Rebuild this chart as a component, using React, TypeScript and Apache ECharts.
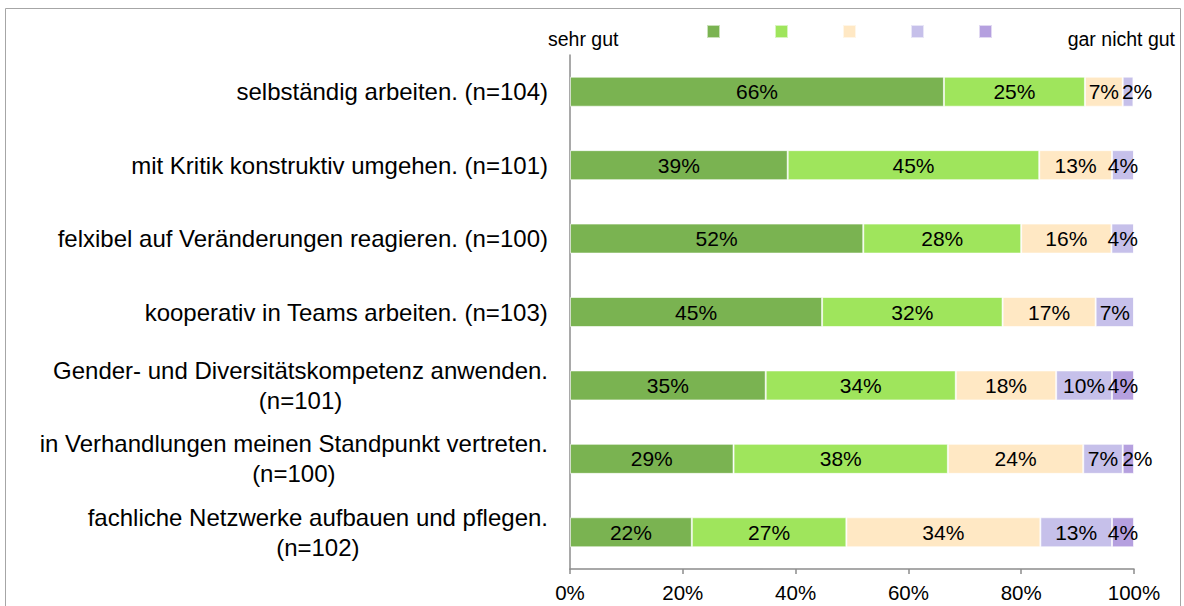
import React, { useEffect, useRef } from "react";
import * as echarts from "echarts";

const categories = [
  "selbständig arbeiten. (n=104)",
  "mit Kritik konstruktiv umgehen. (n=101)",
  "felxibel auf Veränderungen reagieren. (n=100)",
  "kooperativ in Teams arbeiten. (n=103)",
  "Gender- und Diversitätskompetenz anwenden.\n(n=101)",
  "in Verhandlungen meinen Standpunkt vertreten.\n(n=100)",
  "fachliche Netzwerke aufbauen und pflegen.\n(n=102)",
];

const seriesNames = ["1", "2", "3", "4", "5"];
const s1 = [66.3, 38.6, 52, 44.7, 34.7, 29, 21.6];
const s2 = [25.0, 44.6, 28, 32.0, 33.7, 38, 27.4];
const s3 = [6.7, 12.9, 16, 16.5, 17.8, 24, 34.4];
const s4 = [1.9, 3.9, 4, 6.8, 9.9, 7, 12.7];
const s5 = [0, 0, 0, 0, 3.9, 2, 3.9];
const colors = ["#7AB351", "#9FE55C", "#FFE8C4", "#C6C0EA", "#B5A0DF"];
const xTicks = [0, 20, 40, 60, 80, 100];

const FONT = "Liberation Sans, Arial, sans-serif";

export default function App() {
  const ref = useRef<HTMLDivElement>(null);
  useEffect(() => {
    document.body.style.margin = "0";
    const chart = echarts.init(ref.current!, null, { renderer: "svg" });
    const all = [s1, s2, s3, s4, s5];
    chart.setOption({
      animation: false,
      textStyle: { fontFamily: FONT },
      grid: { left: 570, right: 50, top: 55, bottom: 37 },
      legend: {
        data: seriesNames,
        left: 701,
        top: 19,
        itemWidth: 13,
        itemHeight: 13,
        itemGap: 53,
        formatter: () => "",
        selectedMode: false,
        icon: "rect",
      },
      graphic: [
        {
          type: "rect",
          shape: { x: 5.5, y: 8.5, width: 1175, height: 620 },
          style: { fill: "none", stroke: "#A6A6A6", lineWidth: 1 },
          silent: true,
        },
        {
          type: "text",
          left: 548,
          top: 29,
          style: { text: "sehr gut", font: "19.5px " + FONT, fill: "#000" },
        },
        {
          type: "text",
          right: 9,
          top: 29,
          style: { text: "gar nicht gut", font: "19.5px " + FONT, fill: "#000" },
        },
      ],
      xAxis: {
        type: "value",
        min: 0,
        max: 100,
        interval: 20,
        splitLine: { show: false },
        axisLine: { show: true, lineStyle: { color: "#8C8C8C", width: 1.5 } },
        axisTick: { show: true, length: 5, lineStyle: { color: "#8C8C8C", width: 1.5 } },
        axisLabel: {
          color: "#000",
          fontSize: 20.5,
          margin: 13,
          formatter: (v: number) => (xTicks.includes(v) ? v + "%" : ""),
        },
      },
      yAxis: {
        type: "category",
        inverse: true,
        data: categories,
        axisLine: { show: true, lineStyle: { color: "#8C8C8C", width: 1.5 } },
        axisTick: { show: false },
        axisLabel: {
          margin: 22,
          color: "#000",
          fontSize: 24,
          lineHeight: 30,
          formatter: (v: string) =>
            v
              .split("\n")
              .map((l) => "{c|" + l + "}")
              .join("\n"),
          rich: { c: { align: "center", fontSize: 24, lineHeight: 30, color: "#000" } },
        },
      },
      series: all.map((d, i) => ({
        name: seriesNames[i],
        type: "bar",
        stack: "total",
        barWidth: 30,
        data: d.map((v) => ({
          value: v,
          label: v > 0 && v < 3 ? { offset: [9, 0] } : undefined,
        })),
        itemStyle: { color: colors[i], borderColor: "rgba(255,255,255,0.6)", borderWidth: 1 },
        label: {
          show: true,
          position: "inside",
          color: "#000",
          fontSize: 21,
          formatter: (p: any) => (p.value > 0 ? Math.round(p.value) + "%" : ""),
        },
      })),
    });
    return () => chart.dispose();
  }, []);
  return <div ref={ref} style={{ width: 1184, height: 606 }} />;
}
